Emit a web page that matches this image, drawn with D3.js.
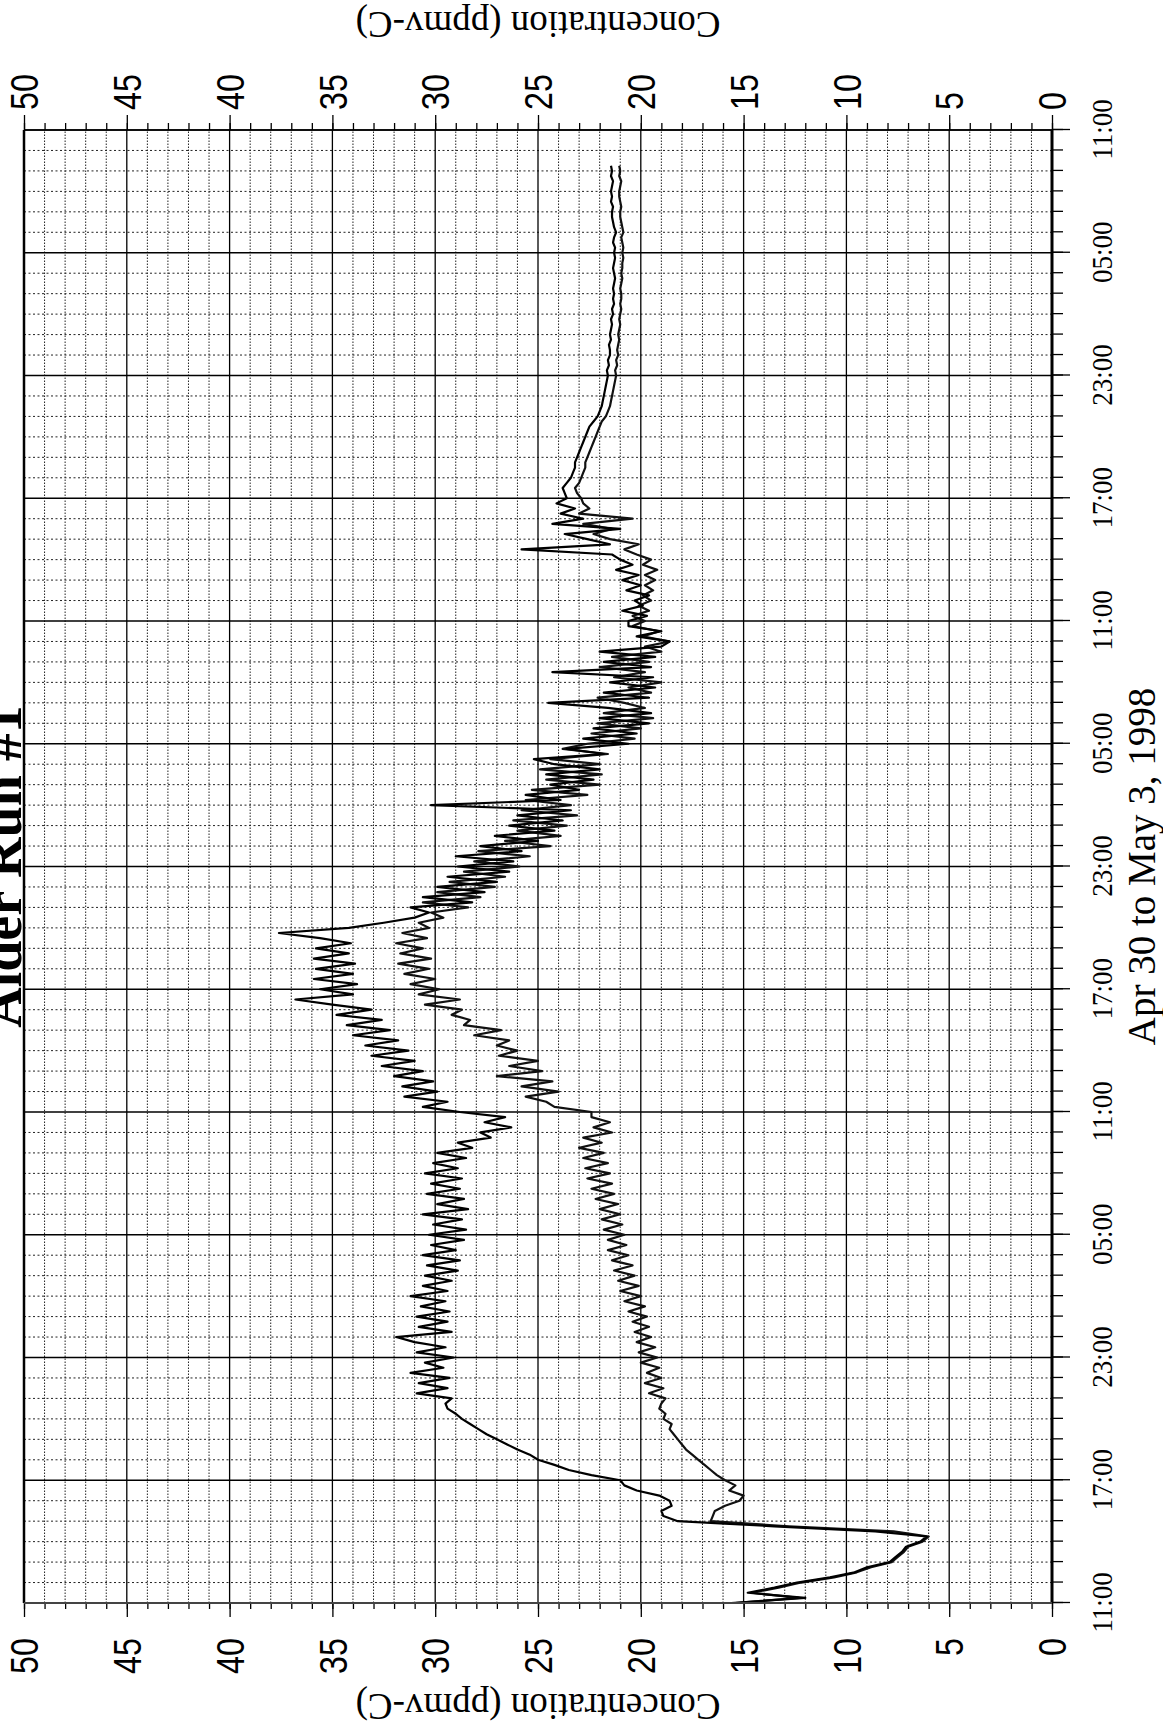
<!DOCTYPE html>
<html>
<head>
<meta charset="utf-8">
<script src="https://cdn.jsdelivr.net/npm/d3@7"></script>
<style>
  html, body { margin: 0; padding: 0; background: #fff; }
  svg { display: block; }
</style>
</head>
<body>
<div id="chart"></div>
<script>
// page is the scanned sheet; the chart itself is landscape, turned a quarter turn
const PAGE_W = 1163, PAGE_H = 1729;
const W = PAGE_H, H = PAGE_W;
const M = { t: 24, r: 130, b: 111, l: 126 };

const titleText = "Alder Run #1";
const xTitle = "Apr 30 to May 3, 1998";
const yTitle = "Concentration (ppmv-C)";

// hours after Apr 30 11:00
const timeTicks = [0, 6, 12, 18, 24, 30, 36, 42, 48, 54, 60, 66, 72];
const timeLabels = ["11:00", "17:00", "23:00", "05:00", "11:00", "17:00", "23:00",
                    "05:00", "11:00", "17:00", "23:00", "05:00", "11:00"];
const concTicks = [0, 5, 10, 15, 20, 25, 30, 35, 40, 45, 50];

// readings every 15 minutes, ppmv-C (one row = 2 hours)
const SAMPLE_HOURS = 0.25;
const seriesA = [
  15.6, 12.0, 14.8, 13.5, 12.4, 10.8, 9.6, 9.0,
  7.9, 7.6, 7.3, 7.1, 6.4, 6.1, 8.6, 13.5,
  18.2, 18.9, 19.0, 18.5, 18.6, 19.1, 20.2, 20.8,
  21.0, 22.4, 23.5, 24.2, 25.0, 25.4, 26.0, 26.5,
  27.0, 27.5, 27.9, 28.3, 28.7, 29.0, 29.4, 29.5,
  29.2, 30.9, 29.4, 30.8, 29.3, 31.2, 29.6, 30.5,
  29.1, 30.9, 29.5, 31.0, 31.9, 29.2, 30.8, 29.4,
  30.9, 29.3, 30.7, 29.5, 31.2, 29.4, 30.6, 29.2,
  30.5, 28.9, 30.4, 28.8, 30.6, 29.0, 30.2, 28.6,
  30.3, 28.5, 30.1, 28.7, 30.6, 28.4, 29.9, 28.6,
  30.4, 28.8, 30.2, 28.7, 30.5, 28.9, 30.1, 28.5,
  29.9, 28.2, 28.9, 27.3, 27.8, 26.3, 27.6, 26.6,
  28.8, 30.6, 29.4, 31.5, 29.9, 31.6, 30.1, 32.0,
  30.6, 32.6, 31.0, 33.1, 31.3, 33.4, 31.8, 34.0,
  32.2, 34.3, 32.6, 34.8, 33.1, 35.0, 36.8, 34.0,
  35.6, 33.8, 35.9, 34.0, 35.8, 33.9, 35.9, 34.2,
  35.8, 34.1, 35.6, 37.6, 34.2, 32.5, 31.0, 30.3,
  31.2, 28.2, 30.6, 27.6, 29.9, 27.0, 29.4, 26.4,
  28.9, 26.2, 29.0, 25.8, 27.8, 25.0, 27.1, 24.2,
  26.4, 23.8, 26.0, 23.4, 30.2, 23.9, 25.6, 23.0,
  24.4, 22.3, 24.6, 22.0, 24.2, 25.2, 21.8, 23.6,
  20.6, 22.8, 20.2, 22.3, 19.6, 22.0, 19.5, 21.6,
  24.5, 19.6, 21.8, 19.3, 21.5, 19.4, 24.3, 19.5,
  21.8, 19.3, 22.0, 19.0, 18.6, 20.2, 19.0, 20.6,
  20.6, 19.7, 20.9, 19.9, 20.3, 19.6, 20.7, 20.0,
  20.9, 20.1, 21.2, 20.4, 21.0, 21.4, 25.8, 21.5,
  22.6, 23.7, 21.0, 24.3, 22.8, 23.9, 23.2, 24.1,
  23.6, 23.7, 23.8, 23.6, 23.4, 23.3, 23.2, 23.2,
  23.1, 23.0, 22.9, 22.8, 22.7, 22.6, 22.5, 22.3,
  22.1, 22.0, 21.9, 21.85, 21.8, 21.75, 21.7, 21.65,
  21.6, 21.65, 21.55, 21.6, 21.5, 21.5, 21.55, 21.45,
  21.5, 21.45, 21.4, 21.45, 21.35, 21.4, 21.3, 21.35,
  21.3, 21.35, 21.3, 21.25, 21.3, 21.35, 21.3, 21.25,
  21.3, 21.25, 21.35, 21.3, 21.2, 21.3, 21.35, 21.4,
  21.4, 21.35, 21.45, 21.4, 21.45, 21.4, 21.35, 21.45,
  21.4, 21.45
];
const seriesB = [
  15.4, 12.3, 14.6, 13.3, 12.2, 10.6, 9.5, 8.8,
  7.8, 7.5, 7.2, 7.0, 6.3, 6.0, 7.7, 12.8,
  16.6, 16.5, 16.4, 15.9, 15.2, 15.0, 15.7, 15.4,
  15.9, 16.3, 16.6, 16.9, 17.2, 17.5, 17.8, 18.0,
  18.2, 18.4, 18.6, 18.5, 18.9, 18.8, 19.1, 19.0,
  18.8, 19.6, 18.9, 19.8, 19.0, 19.7, 19.1, 20.0,
  19.2, 20.1, 19.3, 20.2, 19.5, 20.3, 19.6, 20.4,
  19.7, 20.6, 19.8, 20.8, 20.0, 21.0, 20.1, 21.1,
  20.3, 21.3, 20.4, 21.4, 20.6, 21.6, 20.7, 21.6,
  20.8, 21.8, 20.9, 21.9, 21.0, 22.0, 21.1, 22.2,
  21.3, 22.4, 21.4, 22.6, 21.5, 22.7, 21.6, 22.8,
  21.8, 23.0, 21.9, 22.8, 21.4, 22.3, 21.5, 22.4,
  22.4, 24.2, 24.6, 25.6, 24.0, 25.8, 24.3, 27.0,
  24.8, 26.4, 25.0, 26.9, 26.0, 27.0, 26.4, 28.1,
  26.8, 28.6, 28.3, 29.2, 28.7, 30.5, 28.8, 30.8,
  29.8, 31.2, 30.0, 31.5, 30.3, 31.8, 30.2, 31.7,
  30.6, 31.9, 30.4, 31.6, 30.3, 30.8, 29.6, 30.2,
  28.4, 30.6, 27.8, 29.9, 27.1, 29.3, 26.6, 28.6,
  25.9, 28.1, 25.4, 27.9, 24.4, 26.6, 23.9, 26.0,
  23.6, 26.2, 23.1, 25.8, 23.4, 25.6, 22.6, 25.3,
  22.0, 24.6, 21.9, 24.9, 22.0, 24.4, 21.6, 23.8,
  22.6, 20.3, 22.4, 20.0, 22.1, 19.4, 21.8, 19.8,
  20.8, 22.1, 19.5, 20.6, 19.0, 21.3, 19.8, 22.0,
  19.6, 21.4, 19.0, 19.8, 18.6, 19.9, 19.1, 20.4,
  19.8, 20.4, 19.6, 20.1, 19.5, 19.9, 19.4, 19.8,
  19.3, 19.8, 19.2, 19.9, 19.5, 20.2, 20.8, 20.1,
  21.5, 22.3, 21.4, 22.8, 20.4, 23.0, 22.5, 22.8,
  22.9, 23.1, 23.2, 23.0, 22.9, 22.8, 22.7, 22.7,
  22.6, 22.5, 22.4, 22.3, 22.2, 22.1, 22.0, 21.9,
  21.7, 21.6, 21.5, 21.45, 21.4, 21.35, 21.3, 21.25,
  21.2, 21.25, 21.15, 21.2, 21.1, 21.15, 21.1, 21.05,
  21.1, 21.05, 21.0, 21.05, 21.0, 20.95, 21.0, 20.95,
  20.95, 21.0, 20.95, 20.9, 20.95, 20.9, 20.9, 20.85,
  20.9, 20.85, 20.9, 20.95, 20.85, 20.9, 20.95, 21.0,
  21.0, 20.95, 21.0, 21.05, 21.05, 21.0, 20.95, 21.05,
  21.0, 21.05
];

const svg = d3.select("#chart").append("svg")
  .attr("width", PAGE_W)
  .attr("height", PAGE_H);

// landscape frame -> portrait page (rotated counter-clockwise)
const g = svg.append("g").attr("transform", `translate(0,${PAGE_H}) rotate(-90)`);

const x = d3.scaleLinear().domain([0, 72]).range([M.l, W - M.r]);
const y = d3.scaleLinear().domain([0, 50]).range([H - M.b, M.t]);

const hourLines = d3.range(0, 73);
const unitLines = d3.range(0, 51);

// ── grid ──
const grid = g.append("g");
grid.selectAll(".vmin").data(hourLines.filter(d => d % 6)).join("line")
  .attr("x1", d => x(d)).attr("x2", d => x(d))
  .attr("y1", y(50)).attr("y2", y(0))
  .attr("stroke", "#222").attr("stroke-width", 1)
  .attr("stroke-dasharray", "2,2.5");
grid.selectAll(".hmin").data(unitLines.filter(d => d % 5)).join("line")
  .attr("x1", x(0)).attr("x2", x(72))
  .attr("y1", d => y(d)).attr("y2", d => y(d))
  .attr("stroke", "#222").attr("stroke-width", 1)
  .attr("stroke-dasharray", "1.5,1.5");
grid.selectAll(".vmaj").data(timeTicks).join("line")
  .attr("x1", d => x(d)).attr("x2", d => x(d))
  .attr("y1", y(50)).attr("y2", y(0))
  .attr("stroke", "#000").attr("stroke-width", 1.3);
grid.selectAll(".hmaj").data(concTicks).join("line")
  .attr("x1", x(0)).attr("x2", x(72))
  .attr("y1", d => y(d)).attr("y2", d => y(d))
  .attr("stroke", "#000").attr("stroke-width", 1.3);

// ── data ──
const line = d3.line()
  .x((d, i) => x(i * SAMPLE_HOURS))
  .y(d => y(d));
g.append("path").datum(seriesB)
  .attr("fill", "none").attr("stroke", "#111").attr("stroke-width", 2.2)
  .attr("stroke-linejoin", "round").attr("d", line);
g.append("path").datum(seriesA)
  .attr("fill", "none").attr("stroke", "#000").attr("stroke-width", 2.2)
  .attr("stroke-linejoin", "round").attr("d", line);

// ── axes ──
function plainTicks(sel) {
  sel.select(".domain").remove();
  sel.selectAll(".tick line").attr("stroke", "#000").attr("stroke-width", 1.3);
}

const xMin = g.append("g").attr("transform", `translate(0,${y(0)})`)
  .call(d3.axisBottom(x).tickValues(hourLines).tickSize(11).tickFormat(""));
plainTicks(xMin);
const xAx = g.append("g").attr("transform", `translate(0,${y(0)})`)
  .call(d3.axisBottom(x).tickValues(timeTicks).tickSize(18)
    .tickFormat((d, i) => timeLabels[i]));
plainTicks(xAx);
xAx.selectAll("text")
  .attr("y", 60).attr("dy", 0)
  .attr("transform", "scale(0.9,1)")
  .attr("fill", "#000")
  .style("font-family", "'Liberation Serif', 'Times New Roman', serif")
  .style("font-size", "30px");

const concScale = 0.85;
function concAxis(axisFn, tx, major, minor, off, anchor) {
  const mn = g.append("g").attr("transform", `translate(${tx},0)`)
    .call(axisFn(y).tickValues(unitLines).tickSize(minor).tickFormat(""));
  plainTicks(mn);
  const ax = g.append("g").attr("transform", `translate(${tx},0)`)
    .call(axisFn(y).tickValues(concTicks).tickSize(major));
  plainTicks(ax);
  ax.selectAll("text")
    .attr("x", off / concScale).attr("dy", "0.36em")
    .attr("text-anchor", anchor)
    .attr("transform", `scale(${concScale},1)`)
    .attr("fill", "#000")
    .style("font-family", "'Liberation Sans', Arial, sans-serif")
    .style("font-size", "38px");
}
concAxis(d3.axisLeft, x(0), 14, 6, -35, "end");
concAxis(d3.axisRight, x(72), 15, 7, 20, "start");

// ── frame ──
const frame = g.append("g").attr("stroke", "#000").attr("fill", "none");
frame.append("line").attr("x1", x(0)).attr("x2", x(72)).attr("y1", y(50)).attr("y2", y(50)).attr("stroke-width", 2.5);
frame.append("line").attr("x1", x(0)).attr("x2", x(72)).attr("y1", y(0)).attr("y2", y(0)).attr("stroke-width", 3);
frame.append("line").attr("x1", x(0)).attr("x2", x(0)).attr("y1", y(50)).attr("y2", y(0)).attr("stroke-width", 2.2).attr("stroke", "#444");
frame.append("line").attr("x1", x(72)).attr("x2", x(72)).attr("y1", y(50)).attr("y2", y(0)).attr("stroke-width", 1.6);

// ── titles ──
const serif = "'Liberation Serif', 'Times New Roman', serif";
g.append("text")
  .attr("x", (x(0) + x(72)) / 2).attr("y", 21)
  .attr("text-anchor", "middle")
  .style("font-family", serif).style("font-size", "56px").style("font-weight", "bold")
  .text(titleText);
g.append("text")
  .attr("x", (x(0) + x(72)) / 2).attr("y", 1155)
  .attr("text-anchor", "middle")
  .style("font-family", serif).style("font-size", "39px")
  .text(xTitle);
[35, 1717].forEach(bx => {
  g.append("text")
    .attr("transform", `translate(${bx},${(y(0) + y(50)) / 2}) rotate(-90)`)
    .attr("text-anchor", "middle")
    .style("font-family", serif).style("font-size", "37px")
    .text(yTitle);
});
</script>
</body>
</html>
